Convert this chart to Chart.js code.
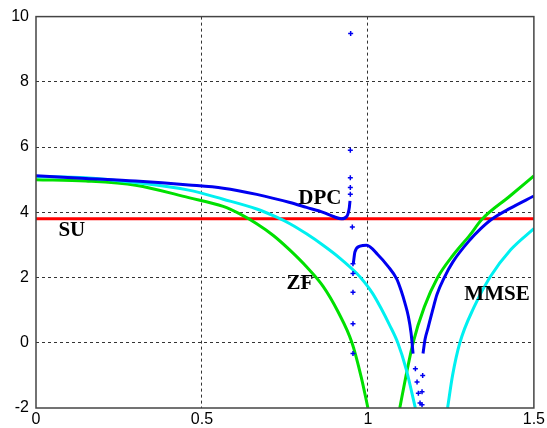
<!DOCTYPE html>
<html>
<head>
<meta charset="utf-8">
<script src="https://cdn.jsdelivr.net/npm/chart.js@4/dist/chart.umd.min.js"></script>
<style>
  html, body { margin: 0; padding: 0; background: #fff; }
  canvas { display: block; }
</style>
</head>
<body>
<canvas id="plot" width="547" height="428"></canvas>
<script>
// tick values
const xTicks = [0, 0.5, 1, 1.5];
const yTicks = [-2, 0, 2, 4, 6, 8, 10];

// SU: flat level
const suLevel = 3.8;

// ZF branches [x, y]
const zfLeft = [[0, 5.0], [0.15, 4.96], [0.3, 4.83], [0.46, 4.45], [0.564, 4.18], [0.614, 3.95],
  [0.665, 3.65], [0.715, 3.29], [0.765, 2.84], [0.815, 2.33], [0.865, 1.73], [0.91, 0.95],
  [0.952, 0], [0.98, -1.06], [1.0, -2]];
const zfRight = [[1.096, -2], [1.115, -1.0], [1.136, 0], [1.17, 1.1], [1.21, 2.0], [1.257, 2.69],
  [1.307, 3.3], [1.343, 3.78], [1.428, 4.5], [1.5, 5.12]];

// MMSE branches
const mmseLeft = [[0, 5.1], [0.15, 5.06], [0.3, 4.91], [0.46, 4.68], [0.564, 4.4], [0.665, 4.1],
  [0.725, 3.85], [0.765, 3.65], [0.815, 3.34], [0.865, 2.99], [0.916, 2.59], [0.966, 2.13],
  [0.99, 1.85], [1.015, 1.5], [1.04, 1.05], [1.065, 0.55], [1.09, 0.0], [1.115, -0.8], [1.143, -2]];
const mmseRight = [[1.24, -2], [1.255, -1.0], [1.277, 0], [1.32, 1.1], [1.367, 2.0], [1.43, 2.85], [1.5, 3.5]];

// DPC branches and scattered samples
const dpcLeft = [[0, 5.12], [0.15, 5.04], [0.3, 4.96], [0.46, 4.84], [0.564, 4.74], [0.665, 4.55],
  [0.765, 4.3], [0.815, 4.15], [0.865, 4.0], [0.896, 3.87], [0.92, 3.8], [0.936, 3.87],
  [0.944, 4.15], [0.946, 4.35]];
const dpcMid = [[0.956, 2.43], [0.961, 2.79], [0.976, 2.96], [0.996, 2.99], [1.03, 2.7],
  [1.06, 2.35], [1.087, 1.95], [1.1, 1.6], [1.112, 1.2], [1.122, 0.8], [1.13, 0.3], [1.136, -0.33]];
const dpcRight = [[1.166, -0.33], [1.172, 0.1], [1.181, 0.45], [1.195, 1.0], [1.208, 1.48],
  [1.23, 2.0], [1.256, 2.48], [1.307, 3.15], [1.34, 3.5], [1.372, 3.78], [1.428, 4.12], [1.5, 4.5]];
const dpcDots = [[0.947, 4.55], [0.947, 4.76], [0.947, 5.06], [0.947, 5.9], [0.948, 9.48], [0.953, 3.55],
  [0.955, 2.42], [0.955, 2.12], [0.955, 1.55], [0.955, 0.58], [0.955, -0.33],
  [1.143, -0.8], [1.148, -1.2], [1.152, -1.55], [1.157, -1.85],
  [1.163, -1.9], [1.163, -1.5], [1.165, -1.0]];

// text labels [text, x, y]
const curveLabels = [['SU', 0.108, 3.45], ['DPC', 0.855, 4.42], ['ZF', 0.795, 1.82], ['MMSE', 1.389, 1.48]];

const pts = arr => arr.map(p => ({ x: p[0], y: p[1] }));

const GREEN = '#00e000', CYAN = '#00f0f0', BLUE = '#0000f0', RED = '#ff0000';

function lineSet(label, arr, color) {
  return {
    label, data: pts(arr), showLine: true, borderColor: color, backgroundColor: color,
    borderWidth: 3, pointRadius: 0, cubicInterpolationMode: 'monotone'
  };
}

const frameAndText = {
  id: 'frameAndText',
  afterDraw(chart) {
    const { ctx, chartArea: a, scales } = chart;
    ctx.save();
    ctx.strokeStyle = '#444';
    ctx.lineWidth = 1.5;
    ctx.setLineDash([]);
    ctx.strokeRect(a.left, a.top, a.right - a.left, a.bottom - a.top);
    ctx.fillStyle = '#000';
    ctx.font = 'bold 21px "Liberation Serif", "Times New Roman", serif';
    ctx.textAlign = 'center';
    ctx.textBaseline = 'middle';
    curveLabels.forEach(([t, x, y]) => {
      ctx.fillText(t, scales.x.getPixelForValue(x), scales.y.getPixelForValue(y));
    });
    ctx.restore();
  }
};

const gridColor = ctx => {
  if (ctx.type !== 'tick') return 'rgba(0,0,0,0)';
  const v = ctx.tick.value;
  const edge = ctx.scale.axis === 'x' ? (v === 0 || v === 1.5) : (v === -2 || v === 10);
  return edge ? 'rgba(0,0,0,0)' : '#333';
};

new Chart(document.getElementById('plot'), {
  type: 'scatter',
  data: {
    datasets: [
      { label: 'DPC dots', data: pts(dpcDots), showLine: false, pointStyle: 'cross',
        pointRadius: 2.5, borderColor: BLUE, backgroundColor: BLUE, borderWidth: 1.5 },
      lineSet('DPC', dpcLeft, BLUE),
      lineSet('DPC', dpcMid, BLUE),
      lineSet('DPC', dpcRight, BLUE),
      lineSet('MMSE', mmseLeft, CYAN),
      lineSet('MMSE', mmseRight, CYAN),
      lineSet('ZF', zfLeft, GREEN),
      lineSet('ZF', zfRight, GREEN),
      lineSet('SU', [[xTicks[0], suLevel], [xTicks[xTicks.length - 1], suLevel]], RED)
    ]
  },
  options: {
    responsive: false,
    animation: false,
    devicePixelRatio: 1,
    layout: { padding: { left: 0, right: 13, top: 12, bottom: 0 } },
    plugins: { legend: { display: false }, tooltip: { enabled: false } },
    scales: {
      x: {
        type: 'linear', min: 0, max: 1.5,
        afterFit: s => { s.height = 20; },
        afterBuildTicks: s => { s.ticks = xTicks.map(v => ({ value: v })); },
        ticks: { color: '#000', padding: 2, maxRotation: 0,
          font: { family: '"Liberation Sans", Arial, sans-serif', size: 16 },
          callback: v => String(v) },
        grid: { color: gridColor, lineWidth: 1, drawTicks: false },
        border: { display: false, dash: [3, 3] }
      },
      y: {
        type: 'linear', min: -2, max: 10,
        afterFit: s => { s.width = 36; },
        afterBuildTicks: s => { s.ticks = yTicks.map(v => ({ value: v })); },
        ticks: { color: '#000', padding: 7,
          font: { family: '"Liberation Sans", Arial, sans-serif', size: 16 },
          callback: v => String(v) },
        grid: { color: gridColor, lineWidth: 1, drawTicks: false },
        border: { display: false, dash: [3, 3] }
      }
    }
  },
  plugins: [frameAndText]
});
</script>
</body>
</html>
